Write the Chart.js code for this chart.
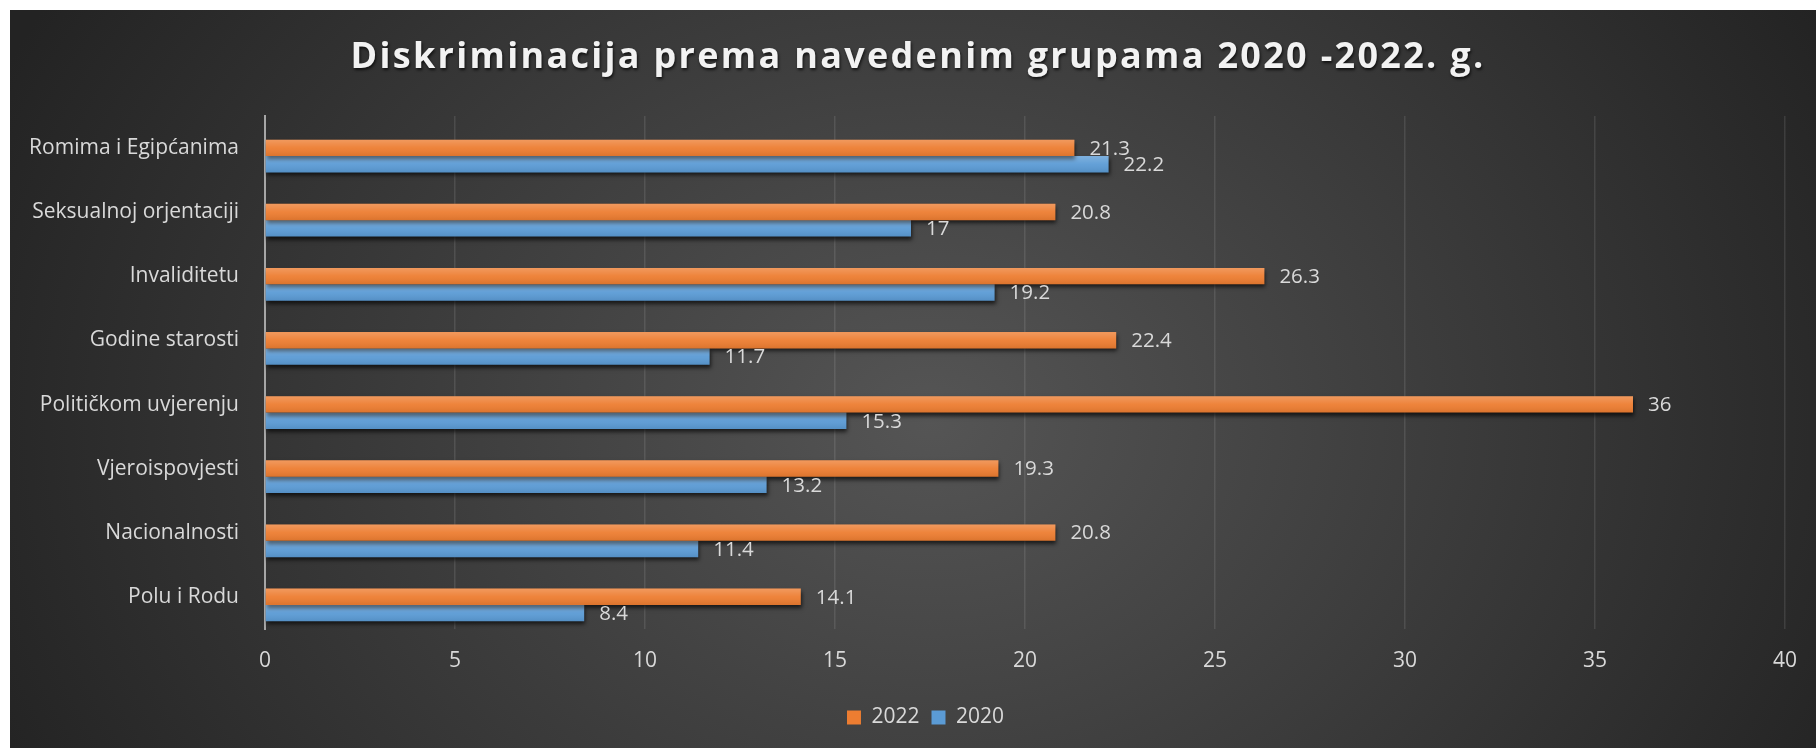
<!DOCTYPE html>
<html>
<head>
<meta charset="utf-8">
<script src="https://cdn.jsdelivr.net/npm/chart.js@4.4.1/dist/chart.umd.min.js"></script>
<style>
  html, body { margin: 0; padding: 0; background: #ffffff; }
  #wrap { position: absolute; left: 0; top: 0; width: 1816px; height: 748px; }
</style>
</head>
<body>
<div id="wrap"><canvas id="chart" width="1816" height="748"></canvas></div>
<script>
var chartTitle = 'Diskriminacija prema navedenim grupama 2020 -2022. g.';
var categories = ['Romima i Egipćanima', 'Seksualnoj orjentaciji', 'Invaliditetu', 'Godine starosti', 'Političkom uvjerenju', 'Vjeroispovjesti', 'Nacionalnosti', 'Polu i Rodu'];
var values2022 = [21.3, 20.8, 26.3, 22.4, 36, 19.3, 20.8, 14.1];
var values2020 = [22.2, 17, 19.2, 11.7, 15.3, 13.2, 11.4, 8.4];
var seriesNames = ['2022', '2020'];
var xMax = 40;
var xStep = 5;

var textColor = '#d9d9d9';
var fontFamily = "'Open Sans', 'Noto Sans', sans-serif";

// dark panel with radial light in the middle
var backgroundPlugin = {
  id: 'panelBg',
  beforeDraw: function(chart){
    var ctx = chart.ctx;
    ctx.save();
    ctx.fillStyle = '#ffffff';
    ctx.fillRect(0, 0, chart.width, chart.height);
    ctx.beginPath();
    ctx.rect(10, 10, chart.width - 10, chart.height - 10);
    ctx.clip();
    ctx.translate(930, 420);
    ctx.scale(1.25, 1);
    var g = ctx.createRadialGradient(0, 0, 0, 0, 0, 820);
    g.addColorStop(0, '#555555');
    g.addColorStop(1, '#232323');
    ctx.fillStyle = g;
    ctx.fillRect(-1000, -500, 2000, 1000);
    ctx.restore();
  },
  afterLayout: function(chart){
    // legend sits a little right of the plot centre
    if (chart.legend) {
      chart.legend.left += 27;
      chart.legend.right += 27;
    }
  }
};

// title with letter spacing and soft shadow
var titlePlugin = {
  id: 'spacedTitle',
  afterDraw: function(chart){
    var ctx = chart.ctx;
    ctx.save();
    ctx.font = "bold 36px " + fontFamily;
    ctx.letterSpacing = '2.3px';
    ctx.textAlign = 'center';
    ctx.textBaseline = 'middle';
    ctx.shadowColor = 'rgba(0,0,0,0.7)';
    ctx.shadowOffsetX = 1;
    ctx.shadowOffsetY = 2;
    ctx.shadowBlur = 3;
    ctx.fillStyle = '#f2f2f2';
    ctx.fillText(chartTitle, 918, 58);
    ctx.restore();
  }
};

// bars sit a bit below the category centre, with a shadow and a glossy top
var barLookPlugin = {
  id: 'barLook',
  beforeDatasetsDraw: function(chart){
    var ctx = chart.ctx;
    ctx.save();
    ctx.translate(0, 8);
    ctx.shadowColor = 'rgba(0,0,0,0.65)';
    ctx.shadowOffsetY = 3;
    ctx.shadowOffsetX = 1;
    ctx.shadowBlur = 4;
  },
  afterDatasetsDraw: function(chart){
    var ctx = chart.ctx;
    ctx.restore();
    ctx.save();
    ctx.translate(0, 8);
    chart.data.datasets.forEach(function(ds, di){
      var meta = chart.getDatasetMeta(di);
      meta.data.forEach(function(bar, i){
        var p = bar.getProps(['x', 'y', 'base', 'height'], true);
        var top = p.y - p.height / 2;
        var g = ctx.createLinearGradient(0, top, 0, top + p.height);
        g.addColorStop(0, 'rgba(255,255,255,0.22)');
        g.addColorStop(0.5, 'rgba(255,255,255,0.05)');
        g.addColorStop(1, 'rgba(0,0,0,0.08)');
        ctx.fillStyle = g;
        ctx.fillRect(p.base, top, p.x - p.base, p.height);

        ctx.font = "20.5px " + fontFamily;
        ctx.fillStyle = textColor;
        ctx.textAlign = 'left';
        ctx.textBaseline = 'middle';
        ctx.fillText(String(ds.data[i]), p.x + 15, p.y + 1);
      });
    });
    ctx.restore();
  }
};

var ctx = document.getElementById('chart');
var myChart = new Chart(ctx, {
  type: 'bar',
  data: {
    labels: categories,
    datasets: [
      {
        label: seriesNames[0],
        data: values2022,
        backgroundColor: '#ed7d31',
        barPercentage: 1,
        categoryPercentage: 0.51
      },
      {
        label: seriesNames[1],
        data: values2020,
        backgroundColor: '#5b9bd5',
        barPercentage: 1,
        categoryPercentage: 0.51
      }
    ]
  },
  options: {
    indexAxis: 'y',
    responsive: false,
    animation: false,
    layout: {
      padding: { left: 10, right: 29, top: 116, bottom: 10 }
    },
    scales: {
      x: {
        min: 0,
        max: xMax,
        ticks: {
          stepSize: xStep,
          color: textColor,
          padding: 19,
          font: { family: fontFamily, size: 21 }
        },
        grid: {
          color: 'rgba(217,217,217,0.13)',
          lineWidth: 1.5,
          drawTicks: false
        },
        border: { display: false },
        afterFit: function(scale){ scale.height = 66; }
      },
      y: {
        ticks: {
          color: textColor,
          padding: 26,
          font: { family: fontFamily, size: 21 }
        },
        grid: { display: false, drawTicks: false },
        border: { display: true, color: '#a6a6a6', width: 2 },
        afterFit: function(scale){ scale.width = 255; }
      }
    },
    plugins: {
      title: { display: false },
      tooltip: { enabled: false },
      legend: {
        display: true,
        position: 'bottom',
        labels: {
          color: textColor,
          boxWidth: 14,
          boxHeight: 14,
          padding: 12,
          font: { family: fontFamily, size: 21 }
        }
      }
    }
  },
  plugins: [backgroundPlugin, barLookPlugin, titlePlugin]
});
</script>
</body>
</html>
